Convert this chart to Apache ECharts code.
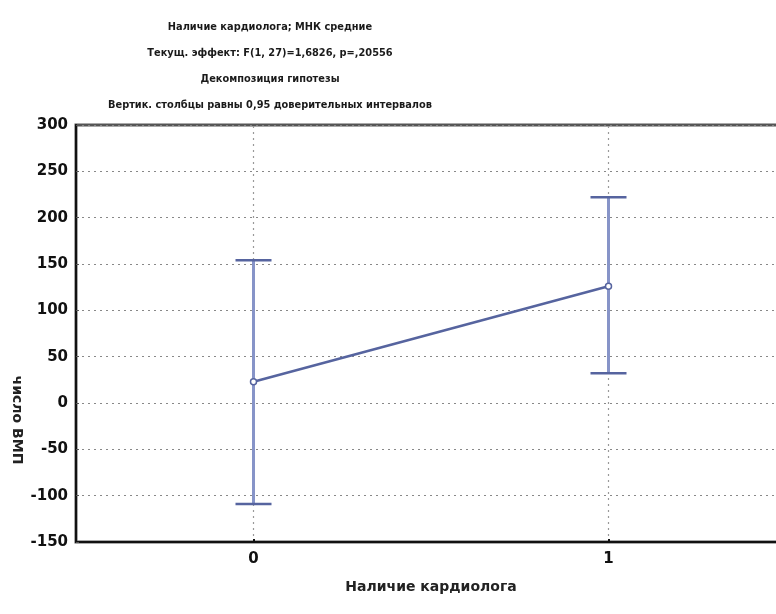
<!DOCTYPE html>
<html>
<head>
<meta charset="utf-8">
<script src="https://cdn.jsdelivr.net/npm/echarts@6/dist/echarts.min.js"></script>
<style>
  html, body { margin: 0; padding: 0; background: #fff; }
  #chart { width: 776px; height: 614px; }
</style>
</head>
<body>
<div id="chart"></div>
<script>
// Group means with 95% confidence limits
const categories = ['0', '1'];
const means = [23, 126];
const lowerCI = [-109, 32];
const upperCI = [154, 222];

const titleLines = [
  'Наличие кардиолога; МНК средние',
  'Текущ. эффект: F(1, 27)=1,6826, p=,20556',
  'Декомпозиция гипотезы',
  'Вертик. столбцы равны 0,95 доверительных интервалов'
];
const xName = 'Наличие кардиолога';
const yName = 'число ВМП';

const FONT = '"DejaVu Sans", Verdana, sans-serif';
const BLUE = '#56649f';
const BAR = '#8794c8';

const chart = echarts.init(document.getElementById('chart'), null, { renderer: 'canvas' });

const ciData = categories.map((c, i) => [i, lowerCI[i], upperCI[i]]);

chart.setOption({
  animation: false,
  backgroundColor: '#ffffff',
  title: {
    text: titleLines.join('\n'),
    left: 265,
    top: 9,
    textAlign: 'center',
    textStyle: {
      fontFamily: FONT, fontSize: 9.8, fontWeight: 'bold', color: '#1a1a1a', lineHeight: 26
    }
  },
  grid: {
    left: 76, top: 125, width: 710, height: 417,
    outerBoundsMode: 'none',
    containLabel: false,
    show: true, borderColor: '#555', borderWidth: 3, backgroundColor: 'transparent'
  },
  graphic: [{
    type: 'text',
    x: 17, y: 420,
    rotation: -Math.PI / 2,
    style: {
      text: yName, fontFamily: FONT, fontSize: 14, fontWeight: 'bold',
      fill: '#222', align: 'center', verticalAlign: 'middle'
    }
  }],
  xAxis: {
    type: 'category',
    data: categories,
    boundaryGap: true,
    name: xName,
    nameLocation: 'middle',
    nameGap: 38,
    nameTextStyle: { fontFamily: FONT, fontSize: 14, fontWeight: 'bold', color: '#222' },
    axisLine: { onZero: false, lineStyle: { color: '#111', width: 2 } },
    axisTick: { show: true, alignWithLabel: true, inside: true, length: 3, lineStyle: { color: '#111', width: 2 } },
    axisLabel: { fontFamily: FONT, fontSize: 15, fontWeight: 'bold', color: '#111', margin: 10 },
    splitLine: { show: false }
  },
  yAxis: {
    type: 'value',
    min: -150, max: 300, interval: 50,
    axisLine: { show: true, onZero: false, lineStyle: { color: '#111', width: 2 } },
    axisTick: { show: true, inside: true, length: 3, lineStyle: { color: '#555' } },
    axisLabel: { fontFamily: FONT, fontSize: 15, fontWeight: 'bold', color: '#111', margin: 8 },
    splitLine: { show: true, lineStyle: { color: '#888', type: [2, 4], width: 1.2 } }
  },
  series: [
    {
      // vertical grid lines through each group
      type: 'line',
      data: [],
      silent: true,
      z: 0,
      markLine: {
        symbol: 'none',
        silent: true,
        z: 0,
        label: { show: false },
        lineStyle: { color: '#999', type: [2, 4], width: 1.2 },
        data: categories.map(c => ({ xAxis: c }))
      }
    },
    {
      type: 'custom',
      data: ciData,
      z: 5,
      renderItem: function (params, api) {
        const x = api.value(0);
        const lo = api.coord([x, api.value(1)]);
        const hi = api.coord([x, api.value(2)]);
        const half = 18;
        return {
          type: 'group',
          children: [
            { type: 'line', shape: { x1: lo[0], y1: lo[1], x2: hi[0], y2: hi[1] },
              style: { stroke: BAR, lineWidth: 3 } },
            { type: 'line', shape: { x1: hi[0] - half, y1: hi[1], x2: hi[0] + half, y2: hi[1] },
              style: { stroke: BLUE, lineWidth: 2.5 } },
            { type: 'line', shape: { x1: lo[0] - half, y1: lo[1], x2: lo[0] + half, y2: lo[1] },
              style: { stroke: BLUE, lineWidth: 2.5 } }
          ]
        };
      }
    },
    {
      type: 'line',
      data: means,
      z: 6,
      symbol: 'circle',
      symbolSize: 6,
      itemStyle: { color: '#ffffff', borderColor: BLUE, borderWidth: 1.5 },
      lineStyle: { color: BLUE, width: 2.5 }
    }
  ]
});
</script>
</body>
</html>
